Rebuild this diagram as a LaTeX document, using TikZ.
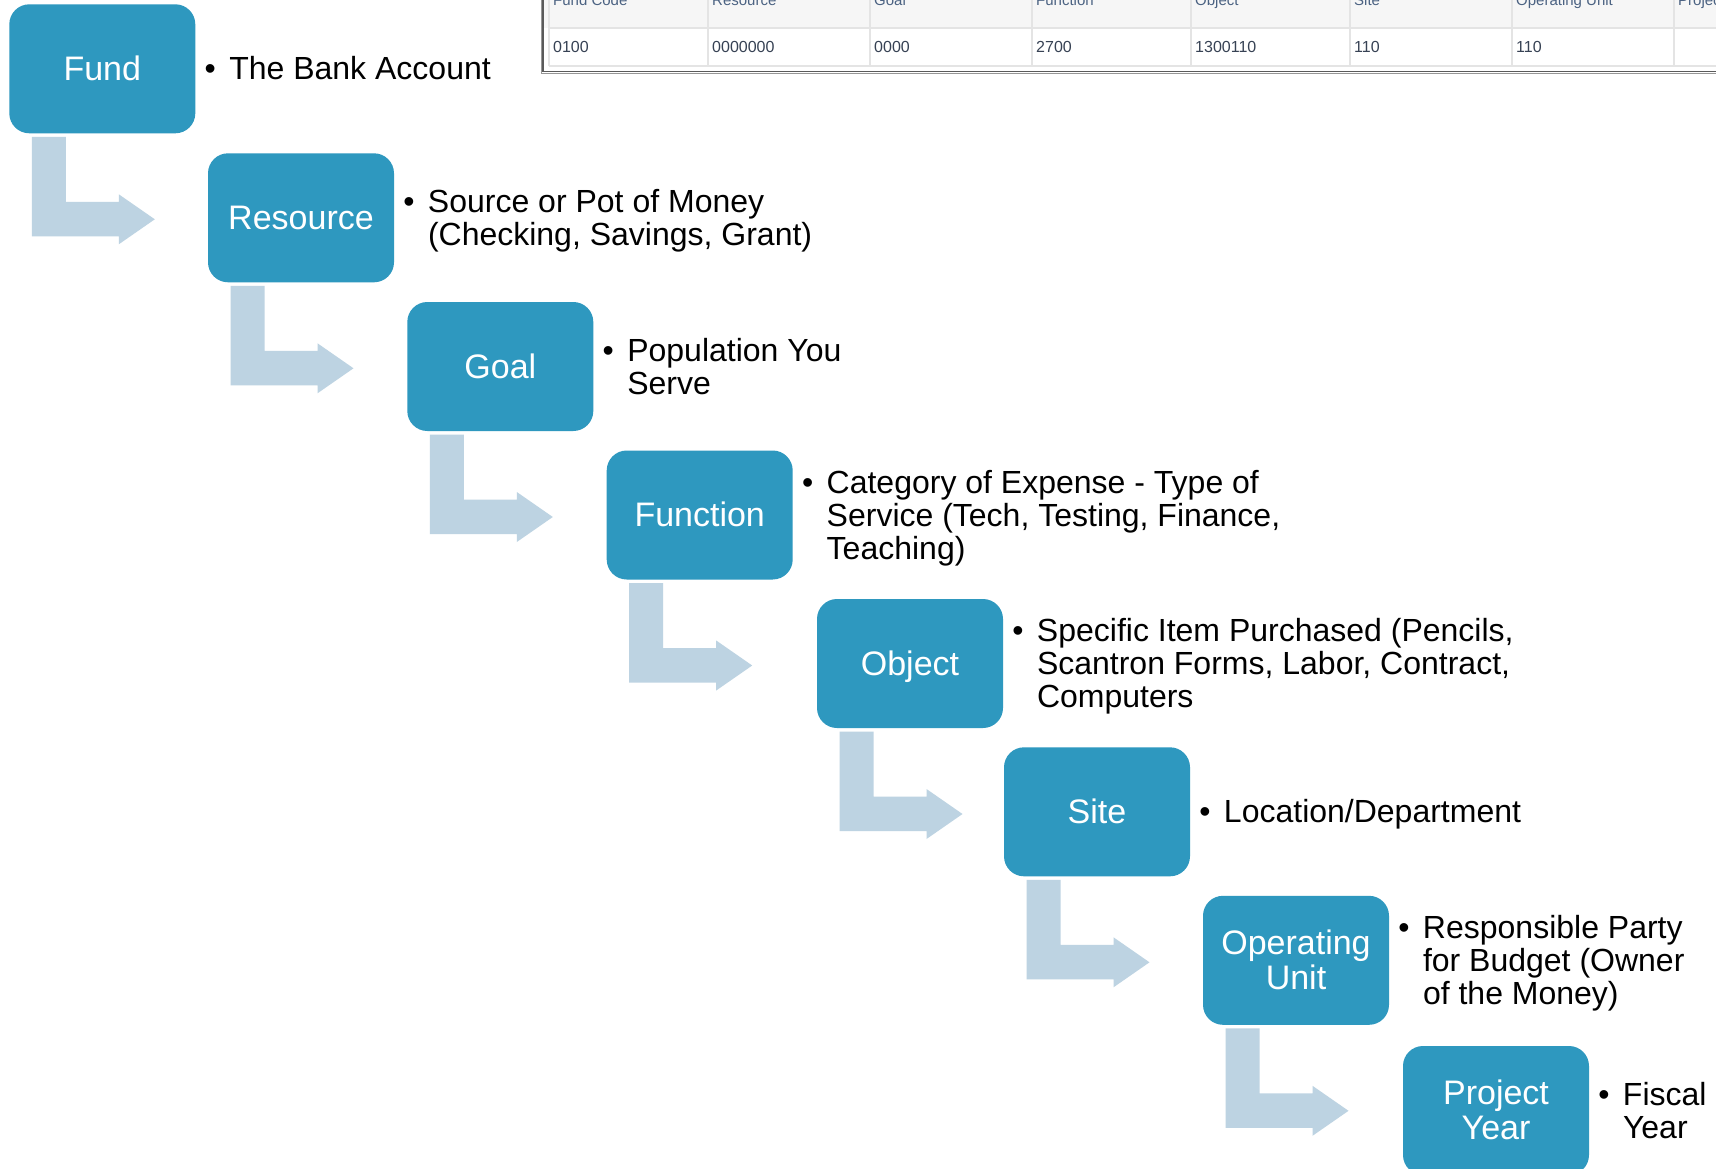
\documentclass[tikz,border=0pt]{standalone}
\usepackage{fontspec}
\setmainfont{Liberation Sans}
\usetikzlibrary{calc}
\definecolor{boxblue}{RGB}{46,152,191}
\definecolor{arrowblue}{RGB}{189,211,226}
\definecolor{hdrbg}{RGB}{246,246,246}
\definecolor{gridgray}{RGB}{228,228,228}
\definecolor{hdrtext}{RGB}{75,98,130}
\definecolor{celltext}{RGB}{55,66,84}
\definecolor{framedark}{RGB}{90,90,90}
\definecolor{framelight}{RGB}{150,150,150}
\newcommand{\tstrut}{\rule{0pt}{0.905em}}
\newcommand{\bstrut}{\rule[-0.212em]{0pt}{0pt}}
\newcommand{\bul}{\llap{\textbullet\hspace{13.4pt}}}
\newcommand{\stagearrow}[1]{%
  \fill[arrowblue] ($(#1.south west)+(22.5,3.5)$) -- ++(34,0) -- ++(0,65) -- ++(53,0)
    -- ++(0,-7.5) -- ++(36,25) -- ++(-36,25) -- ++(0,-8) -- ++(-87,0) -- cycle;}
\begin{document}
\begin{tikzpicture}[x=1pt,y=-1pt,
  stagebox/.style={fill=boxblue, rounded corners=20pt, minimum width=186pt,
    minimum height=129pt, inner sep=0pt, outer sep=0pt, anchor=north west,
    text=white, align=center, font=\fontsize{34pt}{35pt}\selectfont},
  bultext/.style={anchor=west, align=left, inner sep=0pt, outer sep=0pt,
    font=\fontsize{32pt}{33pt}\selectfont},
  hdr/.style={anchor=base west, inner sep=0pt, text=hdrtext, font=\fontsize{15pt}{17pt}\selectfont},
  cell/.style={anchor=base west, inner sep=0pt, text=celltext, font=\fontsize{16pt}{18pt}\selectfont}]
\useasboundingbox (0,0) rectangle (1716,1169);
\clip (0,0) rectangle (1716,1169);
\fill[white] (0,0) rectangle (1716,1169);

% ---- table ----
\fill[hdrbg] (543,-5) rectangle (1716,28);
\fill[white] (549,29) rectangle (1716,66);
\draw[gridgray, line width=2pt] (549,28.5) -- (1716,28.5);
\draw[gridgray, line width=2pt] (549,66.5) -- (1716,66.5);
\foreach \cx in {549,708,870,1032,1191,1350,1512,1674}
  \draw[gridgray, line width=2pt] (\cx,-5) -- (\cx,66.5);
\draw[framedark, line width=1.6pt] (543,-5) -- (543,71.5) -- (1716,71.5);
\draw[framelight, line width=1.2pt] (541.6,-5) -- (541.6,73.6) -- (1716,73.6);
\node[hdr] (h1) at (553,6) {Fund Code};
\node[hdr] (h2) at (712,6) {Resource};
\node[hdr] (h3) at (874,6) {Goal};
\node[hdr] (h4) at (1036,6) {Function};
\node[hdr] (h5) at (1195,6) {Object};
\node[hdr] (h6) at (1354,6) {Site};
\node[hdr] (h7) at (1516,6) {Operating Unit};
\node[hdr] (h8) at (1678,6) {Project Year};
\node[cell] (c1) at (553,53) {0100};
\node[cell] (c2) at (712,53) {0000000};
\node[cell] (c3) at (874,53) {0000};
\node[cell] (c4) at (1036,53) {2700};
\node[cell] (c5) at (1195,53) {1300110};
\node[cell] (c6) at (1354,53) {110};
\node[cell] (c7) at (1516,53) {110};

% ---- stage boxes ----
\node[stagebox] (fund) at (9.3,4.3) {\tstrut\bstrut Fund};
\node[stagebox] (resource) at (208,153.3) {\tstrut\bstrut Resource};
\node[stagebox] (goal) at (407.3,302) {\tstrut\bstrut Goal};
\node[stagebox] (function) at (606.7,450.5) {\tstrut\bstrut Function};
\node[stagebox] (object) at (817,599) {\tstrut\bstrut Object};
\node[stagebox] (site) at (1004,747.3) {\tstrut\bstrut Site};
\node[stagebox] (opunit) at (1203,895.8) {\tstrut Operating\\Unit\bstrut};
\node[stagebox] (projyear) at (1403,1046) {\tstrut Project\\Year\bstrut};

% ---- arrows ----
\stagearrow{fund}
\stagearrow{resource}
\stagearrow{goal}
\stagearrow{function}
\stagearrow{object}
\stagearrow{site}
\stagearrow{opunit}

% ---- bullet texts ----
\node[bultext] (tfund) at ($(fund.east)+(34,0)$) {\bul\tstrut The Bank Account\bstrut};
\node[bultext] (tresource) at ($(resource.east)+(34,0)$) {\bul\tstrut Source or Pot of Money\\(Checking, Savings, Grant)\bstrut};
\node[bultext] (tgoal) at ($(goal.east)+(34,0)$) {\bul\tstrut Population You\\Serve\bstrut};
\node[bultext] (tfunction) at ($(function.east)+(34,0)$) {\bul\tstrut Category of Expense - Type of\\Service (Tech, Testing, Finance,\\Teaching)\bstrut};
\node[bultext] (tobject) at ($(object.east)+(34,0)$) {\bul\tstrut Specific Item Purchased (Pencils,\\Scantron Forms, Labor, Contract,\\Computers\bstrut};
\node[bultext] (tsite) at ($(site.east)+(34,0)$) {\bul\tstrut Location/Department\bstrut};
\node[bultext] (topunit) at ($(opunit.east)+(34,0)$) {\bul\tstrut Responsible Party\\for Budget (Owner\\of the Money)\bstrut};
\node[bultext] (tprojyear) at ($(projyear.east)+(34,0)$) {\bul\tstrut Fiscal\\Year\bstrut};
\end{tikzpicture}
\end{document}
